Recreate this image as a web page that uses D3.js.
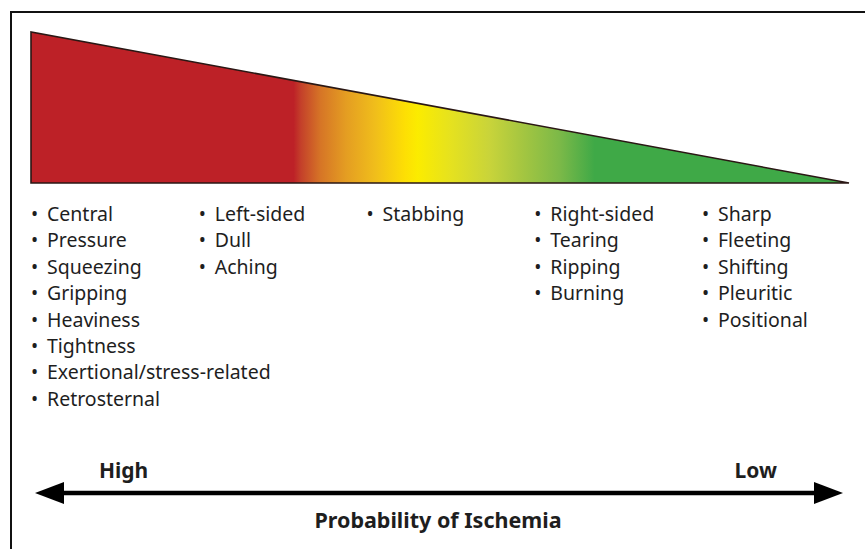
<!DOCTYPE html>
<html>
<head>
<meta charset="utf-8">
<script src="https://cdn.jsdelivr.net/npm/d3@7"></script>
<style>
  html, body { margin: 0; padding: 0; background: #fff; }
  svg { display: block; }
  text { font-family: "Noto Sans", "Open Sans", sans-serif; fill: #1e1e1e; }
</style>
</head>
<body>
<svg width="865" height="549"></svg>
<script>
// Pain descriptors, from high to low probability of ischemia
const colHigh = ["Central", "Pressure", "Squeezing", "Gripping", "Heaviness", "Tightness", "Exertional/stress-related", "Retrosternal"];
const colMidHigh = ["Left-sided", "Dull", "Aching"];
const colMid = ["Stabbing"];
const colMidLow = ["Right-sided", "Tearing", "Ripping", "Burning"];
const colLow = ["Sharp", "Fleeting", "Shifting", "Pleuritic", "Positional"];
const columns = [colHigh, colMidHigh, colMid, colMidLow, colLow];

// Probability wedge (1 = high, 0 = low) and its colour ramp along the axis
const wedgeProb = [1, 0];
const rampPos = [0, 0.321, 0.33, 0.354, 0.385, 0.421, 0.457, 0.473, 0.512, 0.56, 0.597, 0.646, 0.689, 1];
const rampColors = ["#bd2127", "#bd2127", "#c4402a", "#d67526", "#e49d22", "#f0be1b", "#fddf04", "#fbec00", "#e6e21e", "#c9d43a", "#a8c740", "#7cb948", "#3fa947", "#3fa947"];

const axisLabels = ["High", "Low"];
const axisTitle = "Probability of Ischemia";

const svg = d3.select("svg");

// Frame
svg.append("rect")
    .attr("x", 11).attr("y", 12)
    .attr("width", 900).attr("height", 600)
    .attr("fill", "none")
    .attr("stroke", "#111")
    .attr("stroke-width", 2);

// Scales
const x = d3.scaleLinear().domain([0, 1]).range([31, 849]);        // position along the wedge
const h = d3.scaleLinear().domain([0, 1]).range([183, 32]);        // wedge height by probability
const colX = d3.scaleLinear().domain([0, columns.length - 1]).range([47, 718]);
const rowY = d3.scaleLinear().domain([0, 1]).range([221, 247.4]);

// Gradient
const defs = svg.append("defs");
const grad = defs.append("linearGradient")
    .attr("id", "ramp")
    .attr("gradientUnits", "userSpaceOnUse")
    .attr("x1", x(0)).attr("x2", x(1))
    .attr("y1", 0).attr("y2", 0);
grad.selectAll("stop")
    .data(rampPos)
    .join("stop")
    .attr("offset", d => d)
    .attr("stop-color", (d, i) => rampColors[i]);

// Wedge: height falls linearly from high to low probability
const wedge = [[x(0), h(0)], [x(0), h(wedgeProb[0])], [x(1), h(wedgeProb[1])]];
svg.append("path")
    .attr("d", d3.line()(wedge) + "Z")
    .attr("fill", "url(#ramp)")
    .attr("stroke", "#2a1714")
    .attr("stroke-width", 1.6)
    .attr("stroke-linejoin", "miter");

// Bullet lists
const cols = svg.append("g")
    .selectAll("g")
    .data(columns)
    .join("g")
    .attr("transform", (d, i) => `translate(${colX(i)},0)`);

const items = cols.selectAll("g")
    .data(d => d)
    .join("g")
    .attr("transform", (d, i) => `translate(0,${rowY(i)})`);

items.append("text")
    .attr("x", -16)
    .attr("font-size", 19)
    .text("\u2022");

items.append("text")
    .attr("font-size", 19.5)
    .text(d => d);

// Double-headed arrow
const arrowY = 493;
const ax = d3.scaleLinear().domain([0, 1]).range([35, 843]);
svg.append("line")
    .attr("x1", ax(0) + 20).attr("x2", ax(1) - 20)
    .attr("y1", arrowY).attr("y2", arrowY)
    .attr("stroke", "#000")
    .attr("stroke-width", 4.5);

svg.append("path")
    .attr("d", d3.line()([[ax(0), arrowY], [ax(0) + 29, arrowY - 11], [ax(0) + 29, arrowY + 11]]) + "Z")
    .attr("fill", "#000");
svg.append("path")
    .attr("d", d3.line()([[ax(1), arrowY], [ax(1) - 29, arrowY - 11], [ax(1) - 29, arrowY + 11]]) + "Z")
    .attr("fill", "#000");

// Axis labels
svg.selectAll(".endLabel")
    .data(axisLabels)
    .join("text")
    .attr("class", "endLabel")
    .attr("x", (d, i) => i === 0 ? 99 : 777)
    .attr("y", 478)
    .attr("text-anchor", (d, i) => i === 0 ? "start" : "end")
    .attr("font-size", 21)
    .attr("font-weight", "bold")
    .text(d => d);

svg.append("text")
    .attr("x", 438)
    .attr("y", 528)
    .attr("text-anchor", "middle")
    .attr("font-size", 21.5)
    .attr("font-weight", "bold")
    .text(axisTitle);
</script>
</body>
</html>
